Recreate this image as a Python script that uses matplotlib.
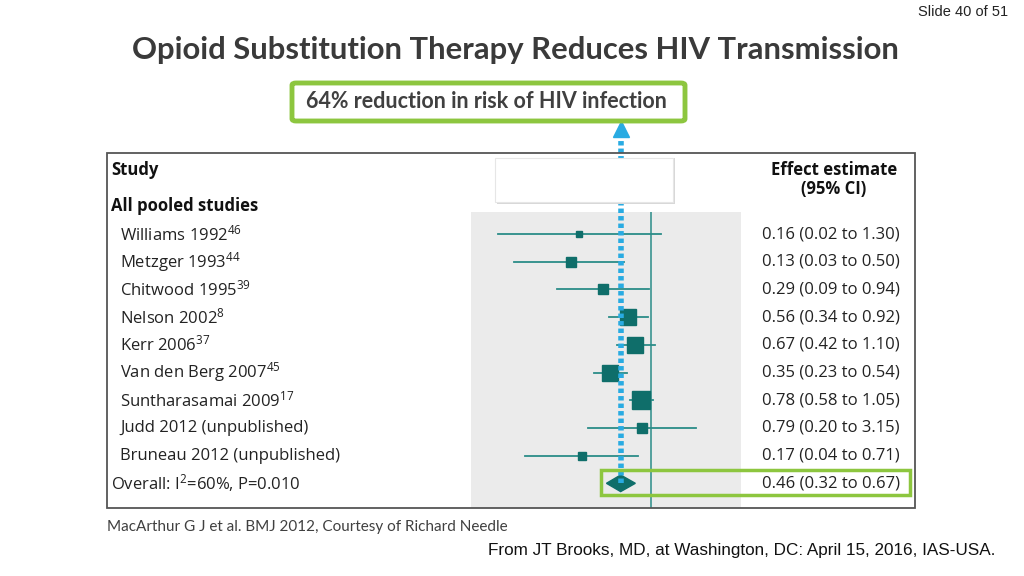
import numpy as np
import matplotlib.pyplot as plt
from matplotlib.patches import Rectangle, FancyBboxPatch, Polygon
from matplotlib.transforms import blended_transform_factory

studies = ["Williams 1992", "Metzger 1993", "Chitwood 1995", "Nelson 2002", "Kerr 2006",
           "Van den Berg 2007", "Suntharasamai 2009", "Judd 2012 (unpublished)",
           "Bruneau 2012 (unpublished)"]
refs = ["46", "44", "39", "8", "37", "45", "17", "", ""]
estimates = [0.16, 0.13, 0.29, 0.56, 0.67, 0.35, 0.78, 0.79, 0.17]
lows = [0.02, 0.03, 0.09, 0.34, 0.42, 0.23, 0.58, 0.20, 0.04]
highs = [1.30, 0.50, 0.94, 0.92, 1.10, 0.54, 1.05, 3.15, 0.71]
weights = [3, 8, 6.5, 16.5, 16.5, 18.5, 21, 8, 4]
overall = (0.46, 0.32, 0.67)

W, H = 1024, 576
fig = plt.figure(figsize=(W / 100, H / 100), dpi=100)


def fx(x):
    return x / W


def fy(y):
    return 1 - y / H


teal = "#0F6E6A"
line_teal = "#2B8C88"
green = "#8DC63F"
blue = "#29ABE2"
tfont = "Open Sans"
tsize = 12

# outer box of the forest plot
fig.patches.append(Rectangle((fx(107), fy(508)), fx(915) - fx(107), fy(153) - fy(508),
                             transform=fig.transFigure, fill=False, edgecolor="#555555", lw=1.3))
# blank white box with shadow
fig.patches.append(Rectangle((fx(497), fy(204)), fx(178), fy(158) - fy(204),
                             transform=fig.transFigure, facecolor="#d8d8d8", edgecolor="none"))
fig.patches.append(Rectangle((fx(495), fy(202)), fx(178), fy(158) - fy(202),
                             transform=fig.transFigure, facecolor="white", edgecolor="#e6e6e6", lw=0.8))

ax = fig.add_axes([fx(471), fy(508), fx(741) - fx(471), fy(212) - fy(508)])
ax.set_facecolor("#EBEBEB")
ax.set_xscale("log")
ax.set_xlim(0.01, 10)
row_h = 27.7
ax.set_ylim((508 - 234) / row_h, (212 - 234) / row_h)
for s in ax.spines.values():
    s.set_visible(False)
ax.set_xticks([])
ax.set_yticks([])
ax.minorticks_off()

ax.axvline(1.0, color=line_teal, lw=1.1)
rows = np.arange(len(studies))
for i in rows:
    ax.plot([lows[i], highs[i]], [i, i], color=line_teal, lw=1.3)
    ax.plot(estimates[i], i, marker="s", color=teal, ms=2.8 * np.sqrt(weights[i]), mec=teal)

oy = len(studies)
est, lo, hi = overall
ax.add_patch(Polygon([[lo, oy], [est, oy - 0.3], [hi, oy], [est, oy + 0.3]],
                     closed=True, facecolor=teal, edgecolor=teal))

# dotted arrow at pooled estimate
ax.plot([est, est], [oy, (133 - 234) / row_h], color=blue, lw=4,
        linestyle=(0, (0.8, 0.55)), clip_on=False, zorder=5)
ax.plot(est, (129 - 234) / row_h, marker="^", color=blue, ms=11, clip_on=False, zorder=6)

# texts in figure x / data y
tr = blended_transform_factory(fig.transFigure, ax.transData)
ax.text(fx(111), (170 - 234) / row_h, "Study", transform=tr, fontsize=tsize, fontweight="bold",
        family=tfont, va="center", color="#111111")
ax.text(fx(111), (206 - 234) / row_h, "All pooled studies", transform=tr, fontsize=tsize,
        fontweight="bold", family=tfont, va="center", color="#111111")
for i in rows:
    lab = studies[i]
    if refs[i]:
        lab += r"$\mathregular{^{" + refs[i] + "}}$"
    ax.text(fx(120), i, lab, transform=tr, fontsize=tsize, family=tfont, va="center",
            color="#222222")
    ax.text(fx(762), i, f"{estimates[i]:.2f} ({lows[i]:.2f} to {highs[i]:.2f})", transform=tr,
            fontsize=tsize, family=tfont, va="center", color="#222222")
ax.text(fx(111), oy, r"Overall: I$\mathregular{^2}$=60%, P=0.010", transform=tr, fontsize=tsize,
        family=tfont, va="center", color="#222222")
ax.text(fx(762), oy, f"{est:.2f} ({lo:.2f} to {hi:.2f})", transform=tr,
        fontsize=tsize, family=tfont, va="center", color="#222222")
ax.text(fx(834), (170 - 234) / row_h, "Effect estimate", transform=tr, fontsize=tsize,
        fontweight="bold", family=tfont, va="center", ha="center", color="#111111")
ax.text(fx(834), (189 - 234) / row_h, "(95% CI)", transform=tr, fontsize=tsize,
        fontweight="bold", family=tfont, va="center", ha="center", color="#111111")

# green highlight boxes
fig.patches.append(Rectangle((fx(601), fy(495)), fx(910) - fx(601), fy(470) - fy(495),
                             transform=fig.transFigure, fill=False, edgecolor=green, lw=2.5,
                             zorder=10))
fig.patches.append(FancyBboxPatch((fx(292), fy(121)), fx(685) - fx(292), fy(83) - fy(121),
                                  boxstyle="round,pad=0,rounding_size=0.004",
                                  transform=fig.transFigure, facecolor="white",
                                  edgecolor=green, lw=3.5))
fig.text(fx(486), fy(102), "64% reduction in risk of HIV infection", fontsize=15.5,
         fontweight="bold", family="Lato", ha="center", va="center", color="#404040")

fig.text(fx(515), fy(50), "Opioid Substitution Therapy Reduces HIV Transmission", fontsize=22.3,
         fontweight="bold", family="Lato", ha="center", va="center", color="#3a3a3a")
fig.text(fx(1008), fy(12), "Slide 40 of 51", fontsize=10.5, family="Liberation Sans",
         ha="right", va="center", color="#222222")
fig.text(fx(107), fy(527), "MacArthur G J et al. BMJ 2012, Courtesy of Richard Needle",
         fontsize=11, family="Lato", ha="left", va="center", color="#404040")
fig.text(fx(995), fy(550), "From JT Brooks, MD, at Washington, DC: April 15, 2016, IAS-USA.",
         fontsize=12.3, family="Liberation Sans", ha="right", va="center", color="#111111")

fig.savefig("out.png", dpi=100)
